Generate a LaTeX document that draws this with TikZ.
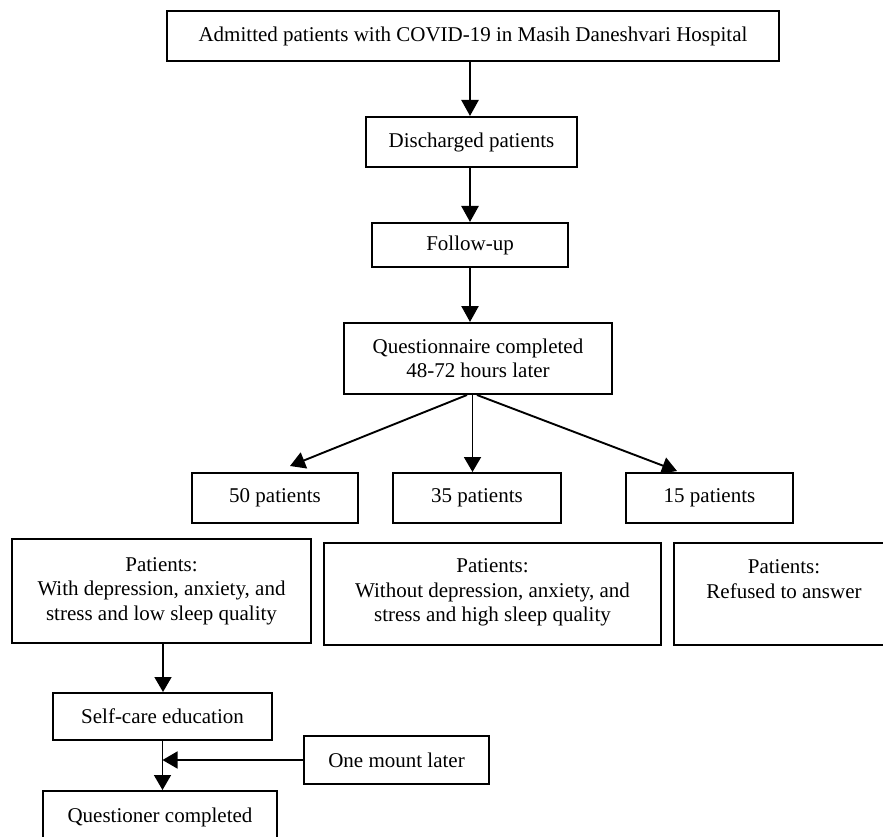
\documentclass[tikz,border=0pt]{standalone}
\usepackage{fontspec}
\setmainfont{Liberation Serif}
\usetikzlibrary{arrows.meta}
\newcommand{\boxtext}[4]{\begin{minipage}[c][#1][t]{#2}\centering\rule{0pt}{#3}#4\end{minipage}}
\begin{document}
\begin{tikzpicture}[x=1pt,y=-1pt,
  box/.style={draw, line width=2pt, inner sep=0pt, align=center,
    font=\fontsize{21pt}{24.5pt}\selectfont},
  tallbox/.style={draw, line width=2pt, inner sep=0pt,
    font=\fontsize{21pt}{24.5pt}\selectfont},
  arr/.style={line width=2.4pt, -{Triangle[width=17pt,length=16pt]}},
  arrthin/.style={line width=1.9pt, -{Triangle[width=17pt,length=15pt]}},
  arrlow/.style={line width=1.6pt, -{Triangle[width=17pt,length=15pt]}}]
\useasboundingbox (0,0) rectangle (883,837);
\clip (0,0) rectangle (883,837);

\node[box, minimum width=612pt, minimum height=50pt] (top) at (473,36)
  {Admitted patients with COVID-19 in Masih Daneshvari Hospital};
\node[box, minimum width=211pt, minimum height=50pt] (dis) at (471.5,142)
  {Discharged patients};
\node[box, minimum width=196pt, minimum height=44pt] (fol) at (470,245)
  {Follow-up};
\node[box, minimum width=268pt, minimum height=71pt] (que) at (478,358.5)
  {Questionnaire completed\\48-72 hours later};
\node[box, minimum width=166pt, minimum height=50pt] (p50) at (275,498)
  {50 patients};
\node[box, minimum width=168pt, minimum height=50pt] (p35) at (477,498)
  {35 patients};
\node[box, minimum width=167pt, minimum height=50pt] (p15) at (709.5,498)
  {15 patients};

\node[tallbox] (with) at (161.5,591)
  {\boxtext{104pt}{299pt}{32pt}{Patients:\\With depression, anxiety, and\\stress and low sleep quality}};
\node[tallbox] (without) at (492.5,594)
  {\boxtext{102pt}{337pt}{29.5pt}{Patients:\\Without depression, anxiety, and\\stress and high sleep quality}};
\node[tallbox] (refused) at (784,594)
  {\boxtext{102pt}{220pt}{30.5pt}{Patients:\\Refused to answer}};

\node[box, minimum width=219pt, minimum height=47pt] (self) at (162.5,716.5)
  {Self-care education};
\node[box, minimum width=185pt, minimum height=48pt] (one) at (396.5,760)
  {One mount later};
\node[box, minimum width=234pt, minimum height=52pt] (qc) at (160,817)
  {Questioner completed};

\draw[arr] (top.south -| fol.north) -- (dis.north -| fol.north);
\draw[arr] (dis.south -| fol.north) -- (fol.north);
\draw[arr] (fol.south) -- (fol.south |- que.north);

\draw[arrthin] ([xshift=-11pt]que.south) -- ([xshift=15pt,yshift=6pt]p50.north);
\draw[arrthin] ([xshift=-5.5pt]que.south) -- ([xshift=-5.5pt]que.south |- p35.north);
\draw[arrthin] ([xshift=-1pt]que.south) -- ([xshift=-32.5pt,yshift=1pt]p15.north);

\draw[arrlow] ([xshift=1.5pt]with.south) -- ([xshift=1.5pt]with.south |- self.north);
\draw[arrlow] (self.south) -- (self.south |- qc.north);
\draw[arrlow] (one.west) -- (one.west -| self.south);
\end{tikzpicture}
\end{document}
